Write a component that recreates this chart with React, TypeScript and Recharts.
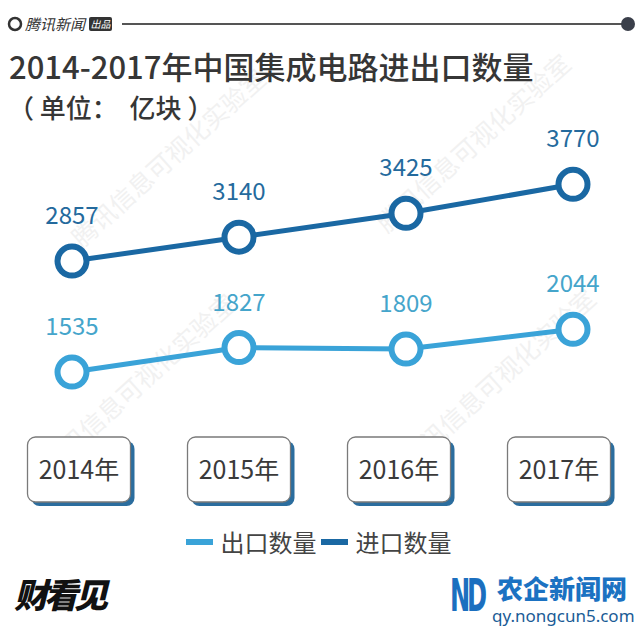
import { LineChart, Line, XAxis, YAxis, Legend, LabelList } from 'recharts';

const years = ['2014年', '2015年', '2016年', '2017年'];
const exportQty = [1535, 1827, 1809, 2044];
const importQty = [2857, 3140, 3425, 3770];
const yDomain = [1000, 4000];

const data = years.map((year, i) => ({
  year,
  exportQty: exportQty[i],
  importQty: importQty[i],
}));

const DARK = '#1a68a3';
const LIGHT = '#3aa3d8';
const DARK_LABEL = '#246a9d';
const LIGHT_LABEL = '#45a5cb';
const FONT = '"Noto Sans CJK SC", "Noto Sans", sans-serif';

const watermarks = [
  { x: 175, y: 165 },
  { x: 480, y: 150 },
  { x: 505, y: 385 },
  { x: 145, y: 390 },
];

const YearBox = (props: any) => {
  const { x, y, payload } = props;
  const w = 103;
  const h = 65;
  const top = y - 10;
  return (
    <g>
      <rect x={x - w / 2 + 4} y={top + 4} width={w} height={h} rx={8} fill="#2b6d9e" />
      <rect x={x - w / 2} y={top} width={w} height={h} rx={8} fill="#fff" stroke="#7a7a7a" strokeWidth={1.3} />
      <text
        x={x}
        y={top + h / 2 + 9}
        textAnchor="middle"
        fontSize={25}
        fontFamily={FONT}
        fill="#3a3a3a"
      >
        {payload.value}
      </text>
    </g>
  );
};

const makeLabel = (color: string) => (props: any) => {
  const { x, y, value } = props;
  return (
    <text x={x} y={y - 37} textAnchor="middle" fontSize={24} fontFamily={FONT} fill={color}>
      {value}
    </text>
  );
};

const LegendContent = (props: any) => {
  const { payload } = props;
  return (
    <div style={{ display: 'flex', justifyContent: 'center', alignItems: 'center', fontFamily: FONT }}>
      {payload.map((p: any) => (
        <div key={p.value} style={{ display: 'flex', alignItems: 'center', marginRight: 4 }}>
          <div style={{ width: 27, height: 6, background: p.color, marginRight: 8 }} />
          <span style={{ fontSize: 24, color: '#444', lineHeight: '30px' }}>{p.value}</span>
        </div>
      ))}
    </div>
  );
};

export default function App() {
  return (
    <div
      style={{
        position: 'absolute',
        left: 0,
        top: 0,
        width: 641,
        height: 631,
        background: '#fff',
        overflow: 'hidden',
        fontFamily: FONT,
      }}
    >
      {/* watermarks */}
      <svg width={641} height={631} style={{ position: 'absolute', left: 0, top: 0 }}>
        {watermarks.map((m, i) => (
          <text
            key={i}
            x={m.x}
            y={m.y}
            textAnchor="middle"
            fontSize={25}
            fontFamily={FONT}
            fill="#bbbbbb"
            opacity={0.2}
            transform={`rotate(-42 ${m.x} ${m.y})`}
          >
            腾讯信息可视化实验室
          </text>
        ))}
      </svg>

      {/* header */}
      <svg width={641} height={40} style={{ position: 'absolute', left: 0, top: 0 }}>
        <circle cx={15} cy={24} r={6} fill="none" stroke="#333" strokeWidth={2.5} />
        <text x={25} y={30} fontSize={15} fontStyle="italic" fontFamily={FONT} fill="#333">
          腾讯新闻
        </text>
        <rect x={89} y={17} width={23} height={14} rx={2} fill="#333" />
        <text x={100.5} y={28} textAnchor="middle" fontSize={10} fontStyle="italic" fontFamily={FONT} fill="#fff">
          出品
        </text>
        <line x1={122} y1={24} x2={622} y2={24} stroke="#555" strokeWidth={2} />
        <circle cx={628} cy={24} r={7} fill="#3a3f4a" />
      </svg>

      <div
        style={{
          position: 'absolute',
          left: 9,
          top: 50,
          fontSize: 31,
          lineHeight: '31px',
          fontWeight: 500,
          color: '#363636',
          whiteSpace: 'nowrap',
        }}
      >
        2014-2017年中国集成电路进出口数量
      </div>
      <div
        style={{
          position: 'absolute',
          left: 8,
          top: 94,
          fontSize: 26,
          lineHeight: '26px',
          fontWeight: 500,
          color: '#363636',
          whiteSpace: 'pre',
        }}
      >
        （ 单位：  亿块 ）
      </div>

      <div style={{ position: 'absolute', left: 0, top: 0 }}>
        <LineChart width={641} height={631} data={data} margin={{ top: 165, right: 68, left: 72, bottom: 124 }}>
          <XAxis dataKey="year" hide />
          <XAxis
            xAxisId="box"
            dataKey="year"
            height={90}
            axisLine={false}
            tickLine={false}
            tickSize={0}
            tickMargin={0}
            interval={0}
            padding={{ left: 7, right: 14 }}
            tick={<YearBox />}
          />
          <YAxis hide domain={yDomain} />
          <Legend
            layout="horizontal"
            verticalAlign="middle"
            align="center"
            wrapperStyle={{ top: 527, left: 0, width: 641 }}
            content={<LegendContent />}
          />
          <Line
            dataKey="exportQty"
            name="出口数量"
            stroke={LIGHT}
            strokeWidth={5}
            dot={{ r: 14.5, strokeWidth: 6, fill: '#fff', stroke: LIGHT }}
            activeDot={false}
            isAnimationActive={false}
          >
            <LabelList dataKey="exportQty" content={makeLabel(LIGHT_LABEL)} />
          </Line>
          <Line
            dataKey="importQty"
            name="进口数量"
            stroke={DARK}
            strokeWidth={5}
            dot={{ r: 14.5, strokeWidth: 6, fill: '#fff', stroke: DARK }}
            activeDot={false}
            isAnimationActive={false}
          >
            <LabelList dataKey="importQty" content={makeLabel(DARK_LABEL)} />
          </Line>
        </LineChart>
      </div>

      {/* bottom logos */}
      <div
        style={{
          position: 'absolute',
          left: 14,
          top: 574,
          fontSize: 34,
          lineHeight: '40px',
          fontWeight: 900,
          fontStyle: 'italic',
          color: '#111',
          letterSpacing: -4,
        }}
      >
        财看见
      </div>
      <div
        style={{
          position: 'absolute',
          left: 450,
          top: 572,
          fontSize: 44,
          lineHeight: '48px',
          fontWeight: 900,
          color: '#1b6fbf',
          letterSpacing: -6,
          fontFamily: '"DejaVu Sans", sans-serif',
          transform: 'scaleX(0.55)',
          transformOrigin: 'left top',
        }}
      >
        ND
      </div>
      <div
        style={{
          position: 'absolute',
          left: 497,
          top: 575,
          fontSize: 26,
          lineHeight: '26px',
          fontWeight: 900,
          color: '#1b72c2',
        }}
      >
        农企新闻网
      </div>
      <div
        style={{
          position: 'absolute',
          left: 492,
          top: 607,
          fontSize: 17,
          lineHeight: '18px',
          color: '#1a5c96',
          fontFamily: '"Noto Sans", sans-serif',
        }}
      >
        qy.nongcun5.com
      </div>
    </div>
  );
}
